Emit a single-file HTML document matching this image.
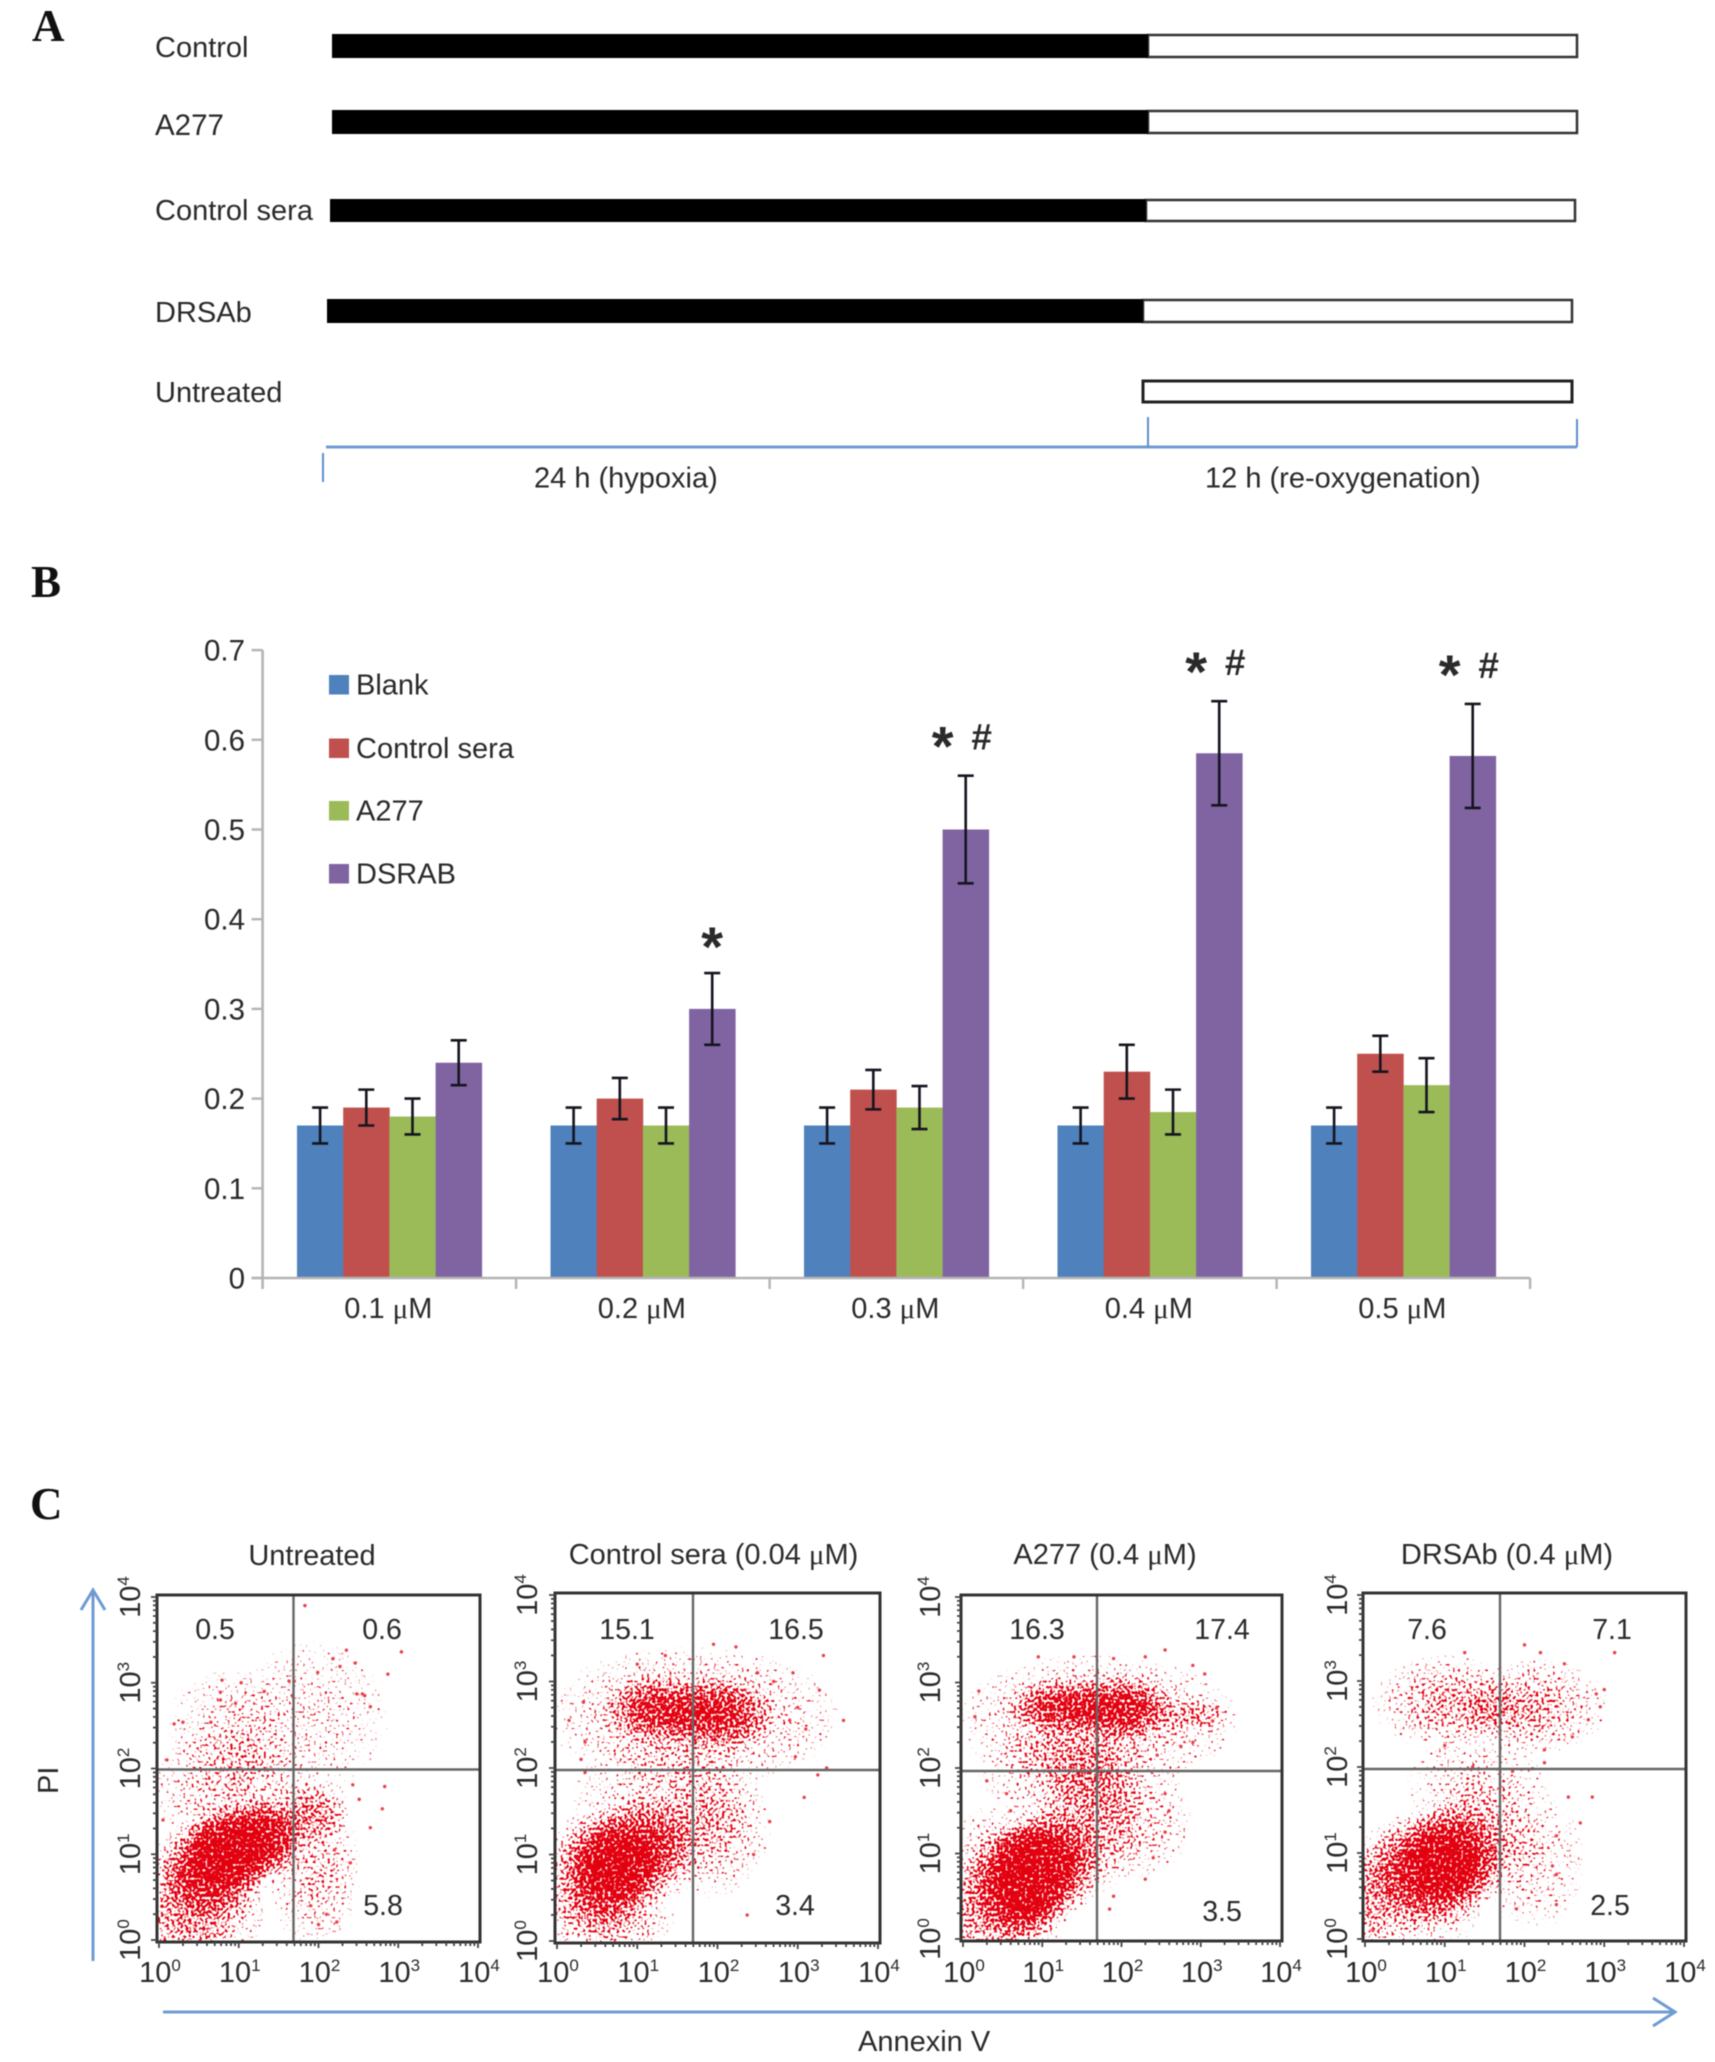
<!DOCTYPE html>
<html lang="en">
<head>
<meta charset="utf-8">
<title>Hypoxia re-oxygenation figure</title>
<style>
html,body{margin:0;padding:0;background:#fff;}
svg{display:block;filter:blur(0.6px);}
text{font-family:"Liberation Sans",sans-serif;fill:#2a2a2a;}
.panel{font-family:"Liberation Serif",serif;font-weight:bold;font-size:45px;fill:#111;}
.mu{font-family:"Liberation Serif",serif;}
</style>
</head>
<body>
<svg id="figure" xmlns="http://www.w3.org/2000/svg" width="1715" height="2062" viewBox="0 0 1715 2062">
<defs>
  <radialGradient id="densityGrad">
    <stop offset="0" stop-color="#000" stop-opacity="1"/>
    <stop offset="0.4" stop-color="#000" stop-opacity="0.78"/>
    <stop offset="0.7" stop-color="#000" stop-opacity="0.42"/>
    <stop offset="1" stop-color="#000" stop-opacity="0"/>
  </radialGradient>
  <filter id="speckle" filterUnits="userSpaceOnUse" x="0" y="1580" width="1715" height="380" color-interpolation-filters="sRGB">
    <feTurbulence type="fractalNoise" baseFrequency="0.36" numOctaves="1" seed="7" result="noise"/>
    <feComposite in="SourceAlpha" in2="noise" operator="arithmetic" k1="0" k2="0.42" k3="1" k4="-0.69" result="mix"/>
    <feComponentTransfer in="mix" result="mask"><feFuncA type="linear" slope="8" intercept="0"/></feComponentTransfer>
    <feFlood flood-color="#e2000f" result="red"/>
    <feComposite in="red" in2="mask" operator="in" result="dots"/>
    <feComponentTransfer in="SourceAlpha" result="limit"><feFuncA type="linear" slope="30" intercept="-0.5"/></feComponentTransfer>
    <feComposite in="dots" in2="limit" operator="in"/>
  </filter>
</defs>
<rect x="0" y="0" width="1715" height="2062" fill="#fff"/>

<g id="panel-a">
  <text class="panel" x="32" y="41">A</text>
  <text x="155" y="57" font-size="29">Control</text>
  <text x="155" y="135" font-size="29.5">A277</text>
  <text x="155" y="220" font-size="29">Control sera</text>
  <text x="155" y="322" font-size="29">DRSAb</text>
  <text x="155" y="402" font-size="29">Untreated</text>

  <rect x="1148" y="35" width="429" height="22" fill="#fff" stroke="#333" stroke-width="2.5"/>
  <rect x="332" y="34" width="816" height="24" fill="#000"/>
  <rect x="1148" y="111" width="429" height="22" fill="#fff" stroke="#333" stroke-width="2.5"/>
  <rect x="332" y="110" width="816" height="24" fill="#000"/>
  <rect x="1146" y="200" width="429" height="21" fill="#fff" stroke="#333" stroke-width="2.5"/>
  <rect x="330" y="199" width="816" height="23" fill="#000"/>
  <rect x="1143" y="300" width="429" height="22" fill="#fff" stroke="#333" stroke-width="2.5"/>
  <rect x="327" y="299" width="816" height="24" fill="#000"/>
  <rect x="1143" y="381" width="429" height="21" fill="#fff" stroke="#222" stroke-width="3"/>

  <line x1="326" y1="447" x2="1577" y2="447" stroke="#6f9bd3" stroke-width="3"/>
  <line x1="323" y1="453" x2="323" y2="482" stroke="#5f8fcb" stroke-width="2"/>
  <line x1="1148" y1="417" x2="1148" y2="447" stroke="#5f8fcb" stroke-width="2"/>
  <line x1="1577" y1="419" x2="1577" y2="447" stroke="#5f8fcb" stroke-width="2"/>
  <text x="534" y="487.5" font-size="29">24 h (hypoxia)</text>
  <text x="1205" y="487.5" font-size="29">12 h (re-oxygenation)</text>
</g>

<g id="panel-b">
  <text class="panel" x="31" y="597">B</text>
</g>

<g id="panel-c">
  <text class="panel" x="30" y="1519">C</text>
  <line x1="93" y1="1961" x2="93" y2="1590" stroke="#6f9bd3" stroke-width="3"/>
  <polyline points="81,1610 93,1590 105,1610" fill="none" stroke="#6f9bd3" stroke-width="3"/>
  <line x1="163" y1="2012" x2="1675" y2="2012" stroke="#6f9bd3" stroke-width="3"/>
  <polyline points="1653,1998 1675,2012 1653,2026" fill="none" stroke="#6f9bd3" stroke-width="3"/>
  <text transform="rotate(-90 58 1794)" x="58" y="1794" font-size="29">PI</text>
  <text x="858" y="2051" font-size="29">Annexin V</text>
</g>
</svg>

<script>
/* ---------- Panel B data ---------- */
const categories = ['0.1', '0.2', '0.3', '0.4', '0.5'];
const seriesNames = ['Blank', 'Control sera', 'A277', 'DSRAB'];
const blankValues = [0.17, 0.17, 0.17, 0.17, 0.17];
const controlSeraValues = [0.19, 0.20, 0.21, 0.23, 0.25];
const a277Values = [0.18, 0.17, 0.19, 0.185, 0.215];
const dsrabValues = [0.24, 0.30, 0.50, 0.585, 0.582];
const blankErrors = [0.02, 0.02, 0.02, 0.02, 0.02];
const controlSeraErrors = [0.02, 0.023, 0.022, 0.03, 0.02];
const a277Errors = [0.02, 0.02, 0.024, 0.025, 0.03];
const dsrabErrors = [0.025, 0.04, 0.06, 0.058, 0.058];
const significance = ['', '*', '*#', '*#', '*#'];
const yTicks = ['0', '0.1', '0.2', '0.3', '0.4', '0.5', '0.6', '0.7'];

/* ---------- Panel C data: density = [logX, logY, spreadX, spreadY, peak], outliers = [logX, logY] ---------- */
const flowTitles = ['Untreated', 'Control sera (0.04 ', 'A277 (0.4 ', 'DRSAb (0.4 '];
const untreatedQuadrants = ['0.5', '0.6', '5.8'];
const controlSeraQuadrants = ['15.1', '16.5', '3.4'];
const a277Quadrants = ['16.3', '17.4', '3.5'];
const drsabQuadrants = ['7.6', '7.1', '2.5'];
const logTicks = ['0', '1', '2', '3', '4'];

const untreatedDensity = [
  [0.65, 0.85, 0.75, 0.6, 0.95], [1.05, 1.1, 0.75, 0.55, 1], [1.4, 1.25, 0.5, 0.42, 0.75], [0.9, 1.05, 0.6, 0.42, 0.9],
  [0.45, 0.35, 0.9, 0.75, 0.6], [0.95, 1.75, 1.1, 0.8, 0.36], [1.95, 1.5, 0.5, 0.4, 0.5],
  [1.95, 0.8, 0.6, 0.95, 0.36], [1.9, 2.6, 1.05, 0.95, 0.2], [0.9, 2.5, 0.85, 0.7, 0.25]
];
const untreatedOutliers = [
  [1.83,3.9],[3.04,3.36],[2.35,3.38],[2.46,3.23],[2.87,3.1],[2.18,3.28],[2.55,2.87],[2.48,2.87],[2.58,2.85],
  [0.77,2.89],[0.77,2.8],[0.79,3.03],[1.03,3],[1.32,2.9],[1.63,3.02],[1.67,2.85],[1.99,3.12],[2.27,3.19],
  [2.65,2.72],[0.3,2.54],[0.19,2.52],[0.65,2.54],[0.96,2.76],[2.83,1.79],[2.8,1.53],[2.65,1.31],[2.43,1.81],
  [2.51,1.64],[2.23,0.21],[2.1,0.3],[2.0,0.18],[2.4,0.9],[2.2,1.05],[1.9,0.4],[0.1,2.1],[0.05,1.4]
];
const controlSeraDensity = [
  [0.55, 0.83, 0.72, 0.72, 0.95], [1.07, 1.03, 0.72, 0.65, 0.9], [0.75, 0.88, 0.55, 0.48, 0.9], [0.6, 0.3, 0.9, 0.5, 0.5],
  [1.3, 1.6, 1.2, 0.8, 0.32], [1.95, 1.3, 0.75, 0.85, 0.35],
  [1.25, 2.68, 0.72, 0.42, 0.72], [2.0, 2.62, 0.72, 0.44, 0.78], [1.7, 2.6, 1.9, 0.85, 0.42]
];
const controlSeraOutliers = [
  [2.34,4.03],[1.95,3.43],[2.23,3.4],[3.32,3.3],[3.57,2.55],[3.27,2.9],[3.25,1.92],[3.08,1.66],[3.36,2.0],
  [2.97,2.13],[1.35,3.3],[1.0,3.2],[0.33,2.76],[0.15,2.55],[2.94,3.1],[2.37,0.3],[2.65,1.38],[2.45,1.0],
  [2.9,2.55],[3.0,2.7],[3.1,2.45],[2.7,3.0],[2.5,3.1],[0.35,2.3],[0.3,2.1],[0.35,1.95]
];
const a277Density = [
  [0.75, 0.65, 0.72, 0.72, 0.95], [1.1, 0.9, 0.72, 0.68, 0.95], [0.85, 0.8, 0.55, 0.55, 0.95], [0.78, 0.45, 0.38, 0.38, 0.8],
  [0.4, 0.3, 0.95, 0.68, 0.55], [0.6, 0.9, 0.95, 0.72, 0.42], [1.6, 1.4, 0.72, 0.95, 0.45], [1.3, 1.95, 1.15, 0.58, 0.36],
  [2.2, 1.4, 0.72, 0.72, 0.32],
  [1.25, 2.72, 0.72, 0.34, 0.76], [2.0, 2.7, 0.72, 0.4, 0.82], [1.7, 2.55, 1.85, 0.82, 0.44], [2.95, 2.62, 0.48, 0.22, 0.38]
];
const a277Outliers = [
  [2.55,3.38],[2.9,3.2],[3.05,3.1],[3.2,2.7],[3.15,2.55],[0.2,2.9],[0.15,2.6],[0.95,3.3],[1.4,3.3],[1.9,3.28],
  [2.3,3.3],[2.75,2.25],[2.9,2.3],[2.55,1.7],[2.6,1.5],[2.55,1.25],[2.4,0.95],[2.3,0.7],[1.9,0.5],[1.85,0.35],
  [0.3,1.85],[0.55,1.7],[0.6,1.5],[2.45,2.15]
];
const drsabDensity = [
  [0.85, 0.82, 0.85, 0.72, 0.95], [1.15, 1.0, 0.68, 0.62, 0.75], [0.95, 0.88, 0.55, 0.46, 0.9], [0.6, 0.6, 1.0, 0.85, 0.42],
  [1.5, 1.2, 0.8, 0.8, 0.32], [1.4, 1.8, 0.95, 0.6, 0.24], [2.1, 0.9, 0.72, 0.85, 0.24], [0.1, 0.5, 0.42, 0.75, 0.32],
  [1.0, 2.75, 0.95, 0.58, 0.44], [2.1, 2.7, 1.0, 0.58, 0.44], [1.65, 2.65, 0.5, 0.3, 0.2]
];
const drsabOutliers = [
  [3.13,3.33],[1.25,3.33],[2.0,3.42],[2.2,3.33],[2.5,3.2],[2.9,2.85],[3.0,2.9],[2.95,2.7],[2.8,2.55],[2.6,2.35],
  [2.25,2.2],[2.25,2.05],[1.0,2.25],[1.35,2.0],[2.55,1.65],[2.85,1.65],[2.7,1.35],[2.4,1.2],[2.35,0.85],[2.4,0.4],
  [2.4,0.75],[1.9,0.35],[0.05,0.3],[0.1,0.1],[1.85,1.95],[2.1,1.98]
];

/* ---------- helpers ---------- */
const SVGNS = 'http://www.w3.org/2000/svg';
function make(tag, attrs, parent, content) {
  const node = document.createElementNS(SVGNS, tag);
  for (const k in attrs) node.setAttribute(k, attrs[k]);
  if (content !== undefined) node.textContent = content;
  parent.appendChild(node);
  return node;
}

/* ---------- Panel B ---------- */
(function drawBars() {
  const root = document.getElementById('panel-b');
  const axisLeft = 262.6, axisZero = 1278, unitPx = 897, catW = 253.5;
  const barW = 46.2, pad = 34.4;
  const colors = ['#4f81bd', '#c0504d', '#9bbb59', '#8064a2'];
  const allValues = [blankValues, controlSeraValues, a277Values, dsrabValues];
  const allErrors = [blankErrors, controlSeraErrors, a277Errors, dsrabErrors];
  const yScale = v => axisZero - v * unitPx;
  const catX = i => axisLeft + i * catW;
  const barX = (c, s) => catX(c) + pad + s * barW;

  allValues.forEach((vals, s) => {
    vals.forEach((v, c) => {
      const el = make('rect', {x: barX(c, s), y: yScale(v), width: barW + 0.3, height: axisZero - yScale(v), fill: colors[s], 'data-series': seriesNames[s]}, root);
      
      
    });
  });
  allValues.forEach((vals, s) => {
    vals.forEach((v, c) => {
      const cx = barX(c, s) + barW / 2, top = yScale(v + allErrors[s][c]), bot = yScale(v - allErrors[s][c]);
      const el = make('path', {d: `M${cx - 8} ${top}H${cx + 8}M${cx} ${top}V${bot}M${cx - 8} ${bot}H${cx + 8}`, fill: 'none', stroke: '#15151f', 'stroke-width': 2.6}, root);
      
      
    });
  });

  const yAxis = make('line', {x1: axisLeft, y1: yScale(0.7), x2: axisLeft, y2: axisZero + 11, stroke: '#b4b4b4', 'stroke-width': 2.6}, root);
  
  
  const xAxis = make('line', {x1: axisLeft - 11, y1: axisZero, x2: catX(5), y2: axisZero, stroke: '#b4b4b4', 'stroke-width': 2.6}, root);
  
  

  yTicks.forEach(t => {
    const y = yScale(parseFloat(t));
    const tick = make('line', {x1: axisLeft - 11, y1: y, x2: axisLeft, y2: y, stroke: '#b4b4b4', 'stroke-width': 2.4}, root);
    
    
    const label = make('text', {x: 245, y: y + 10.5, 'text-anchor': 'end', 'font-size': 29.5}, root, t);
    
    
  });

  categories.forEach((cat, i) => {
    const tick = make('line', {x1: catX(i + 1), y1: axisZero, x2: catX(i + 1), y2: axisZero + 11, stroke: '#b4b4b4', 'stroke-width': 2.4}, root);
    
    
    const label = make('text', {x: catX(i) + catW / 2 - 1, y: 1318, 'text-anchor': 'middle', 'font-size': 29}, root, cat + ' ');
    
    
    make('tspan', {class: 'mu'}, label, '\u03bc');
    make('tspan', {}, label, 'M');
  });

  significance.forEach((mark, i) => {
    if (!mark) return;
    const cx = barX(i, 3) + barW / 2;
    const top = yScale(dsrabValues[i] + dsrabErrors[i]);
    const double = mark.length > 1;
    const star = make('text', {x: cx + (double ? -23 : 0), y: top + (double ? -10 : -7), 'text-anchor': 'middle', 'font-size': 56, 'font-weight': 'bold', fill: '#111'}, root, '*');
    
    
    if (double) {
      const hash = make('text', {x: cx + 16, y: top - 26, 'text-anchor': 'middle', 'font-size': 37, 'font-weight': 'bold', fill: '#111'}, root, '#');
      
      
    }
  });

  const legendY = [675, 738.5, 801, 864];
  seriesNames.forEach((name, i) => {
    const sw = make('rect', {x: 329, y: legendY[i], width: 20, height: 19.5, fill: colors[i]}, root);
    
    
    const lab = make('text', {x: 356, y: legendY[i] + 19.5, 'font-size': 29}, root, name);
    
    
  });
})();

/* ---------- Panel C ---------- */
(function drawFlow() {
  const root = document.getElementById('panel-c');
  const frames = [
    {l: 157, r: 480, t: 1595, b: 1942, dx: 293.5, dy: 1769.5, tx: 312, ty: 1565, lab: 140,
     q: [[215, 1639], [382, 1639], [383, 1915]]},
    {l: 555, r: 880, t: 1593, b: 1943, dx: 693, dy: 1770, tx: 713.5, ty: 1564, lab: 537,
     q: [[627, 1639], [796, 1639], [795, 1915]]},
    {l: 961, r: 1282, t: 1595, b: 1941, dx: 1097, dy: 1771, tx: 1105, ty: 1564, lab: 940,
     q: [[1037, 1639], [1222, 1639], [1222, 1921]]},
    {l: 1363, r: 1686, t: 1593, b: 1941, dx: 1500, dy: 1769, tx: 1507, ty: 1564, lab: 1347,
     q: [[1427, 1639], [1612, 1639], [1610, 1915]]}
  ];
  const densities = [untreatedDensity, controlSeraDensity, a277Density, drsabDensity];
  const outliers = [untreatedOutliers, controlSeraOutliers, a277Outliers, drsabOutliers];
  const quadrants = [untreatedQuadrants, controlSeraQuadrants, a277Quadrants, drsabQuadrants];

  frames.forEach((f, p) => {
    const x0 = f.l + 2, y0 = f.b - 2;
    const decX = (f.r - f.l - 4) / 4, decY = (f.b - f.t - 4) / 4;
    const xs = d => x0 + d * decX;
    const ys = d => y0 - d * decY;

    const clip = make('clipPath', {id: 'plot-clip-' + p}, root);
    make('rect', {x: f.l, y: f.t, width: f.r - f.l, height: f.b - f.t}, clip);

    const plot = make('g', {'clip-path': `url(#plot-clip-${p})`}, root);
    
    

    const cloud = make('g', {filter: 'url(#speckle)'}, plot);
    
    
    densities[p].forEach(b => {
      const el = make('ellipse', {cx: xs(b[0]), cy: ys(b[1]), rx: b[2] * decX, ry: b[3] * decY, fill: 'url(#densityGrad)', 'fill-opacity': b[4]}, cloud);
      
      
    });
    outliers[p].forEach(pt => {
      const el = make('circle', {cx: xs(pt[0]), cy: ys(pt[1]), r: 1.7, fill: '#e8404a'}, plot);
      
      
    });

    const vLine = make('line', {x1: f.dx, y1: f.t, x2: f.dx, y2: f.b, stroke: '#666', 'stroke-width': 2.4}, root);
    
    
    const hLine = make('line', {x1: f.l, y1: f.dy, x2: f.r, y2: f.dy, stroke: '#666', 'stroke-width': 2.4}, root);
    
    
    const box = make('rect', {x: f.l, y: f.t, width: f.r - f.l, height: f.b - f.t, fill: 'none', stroke: '#333', 'stroke-width': 3}, root);
    
    

    let tickPath = '';
    for (let d = 0; d < 5; d++) {
      tickPath += `M${xs(d)} ${f.b}v6M${f.l} ${ys(d)}h-6`;
      if (d < 4) for (let m = 2; m < 10; m++) {
        tickPath += `M${xs(d + Math.log10(m))} ${f.b}v4M${f.l} ${ys(d + Math.log10(m))}h-4`;
      }
    }
    const ticks = make('path', {d: tickPath, fill: 'none', stroke: '#444', 'stroke-width': 1.8}, root);
    
    

    logTicks.forEach((t, d) => {
      const xl = make('text', {x: xs(d) + 1, y: 1982, 'text-anchor': 'middle', 'font-size': 29}, root, '10');
      
      
      make('tspan', {dy: -11, 'font-size': 17}, xl, t);

      const yl = make('text', {x: f.lab, y: ys(d), 'text-anchor': 'middle', 'font-size': 29, transform: `rotate(-90 ${f.lab} ${ys(d)})`}, root, '10');
      
      
      make('tspan', {dy: -11, 'font-size': 17}, yl, t);
    });

    quadrants[p].forEach((v, i) => {
      const lab = make('text', {x: f.q[i][0], y: f.q[i][1], 'text-anchor': 'middle', 'font-size': 28.5}, root, v);
      
      
    });

    const title = make('text', {x: f.tx, y: f.ty, 'text-anchor': 'middle', 'font-size': 29}, root, flowTitles[p]);
    
    
    if (p > 0) {
      make('tspan', {class: 'mu'}, title, '\u03bc');
      make('tspan', {}, title, 'M)');
    }
  });
})();
</script>
</body>
</html>
